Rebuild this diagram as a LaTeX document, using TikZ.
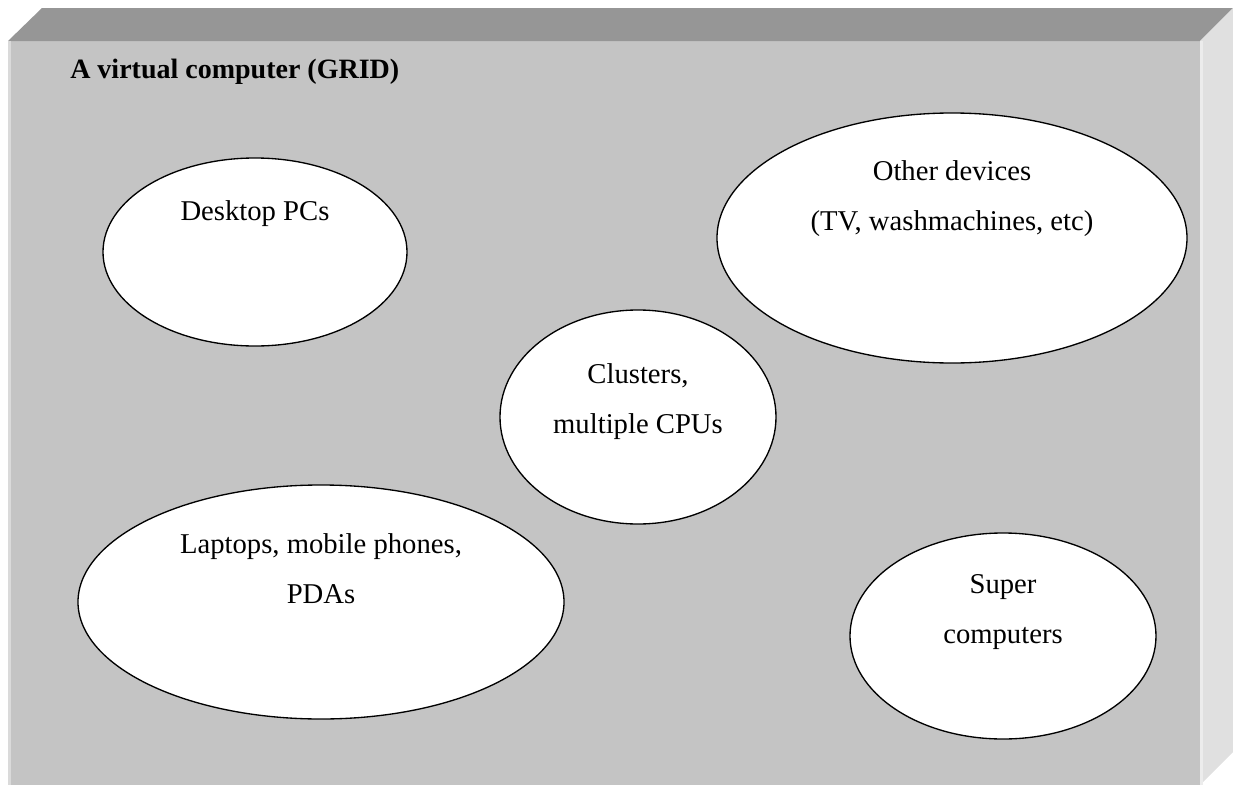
\documentclass[tikz,border=0pt]{standalone}
\usepackage{fontspec}
\setmainfont{Liberation Serif}
\usetikzlibrary{shapes.geometric}

\definecolor{boxfront}{HTML}{C4C4C4}
\definecolor{boxtop}{HTML}{969696}
\definecolor{boxside}{HTML}{E0E0E0}

\begin{document}
\begin{tikzpicture}[
	x=0.75pt, y=-0.75pt,
	every node/.style={font=\fontsize{21.5}{26}\selectfont},
	device/.style={ellipse, draw, fill=white, line width=1pt, inner sep=0pt},
	txt/.style={anchor=base},
]
	\useasboundingbox (0,0) rectangle (1233,785);

	% the box
	\fill [boxfront] (8,41) rectangle (1200,785);
	\fill [boxtop] (8,41) -- (42,8) -- (1233,8) -- (1200,41) -- cycle;
	\fill [boxside] (1200,41) -- (1233,8) -- (1233,752) -- (1200,785) -- cycle;
	\fill [boxside!80!boxfront] (8,41) rectangle (11,785);
	\fill [boxside!60!white] (1200,41) rectangle (1203,785);

	\node [anchor=base west, inner sep=0pt, font=\fontsize{21}{26}\selectfont\bfseries] (title) at (70,78) {A virtual computer (GRID)};

	\node [device, minimum width=304*0.75pt, minimum height=188*0.75pt] (desktop) at (255,252) {};
	\node [txt] (desktoptxt) at (255,220) {Desktop PCs};

	\node [device, minimum width=470*0.75pt, minimum height=250*0.75pt] (other) at (952,238) {};
	\node [txt] (othertxt) at (952,180) {Other devices};
	\node [txt] (othertxtb) at (952,230) {(TV, washmachines, etc)};

	\node [device, minimum width=276*0.75pt, minimum height=214*0.75pt] (cluster) at (638,417) {};
	\node [txt] (clustertxt) at (638,383) {Clusters,};
	\node [txt] (clustertxtb) at (638,433) {multiple CPUs};

	\node [device, minimum width=486*0.75pt, minimum height=234*0.75pt] (laptop) at (321,602) {};
	\node [txt] (laptoptxt) at (321,553) {Laptops, mobile phones,};
	\node [txt] (laptoptxtb) at (321,603) {PDAs};

	\node [device, minimum width=306*0.75pt, minimum height=206*0.75pt] (super) at (1003,636) {};
	\node [txt] (supertxt) at (1003,593) {Super};
	\node [txt] (supertxtb) at (1003,643) {computers};
\end{tikzpicture}
\end{document}
